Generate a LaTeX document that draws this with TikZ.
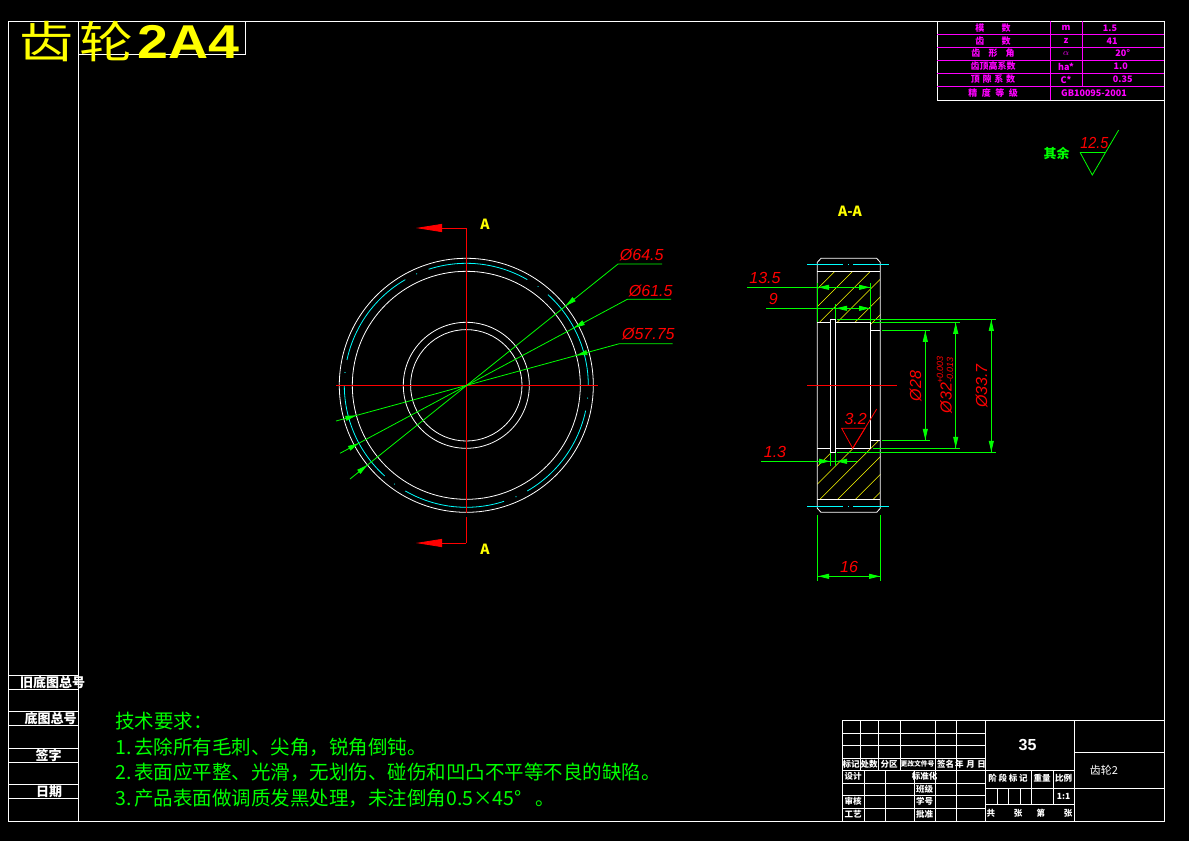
\documentclass[tikz,border=0pt]{standalone}
\usepackage{fontspec}
\setmainfont{Liberation Sans}
\newfontfamily\cjk{Noto Sans CJK SC}
\newfontfamily\wide[FakeStretch=1.17]{Liberation Sans}
\usetikzlibrary{arrows.meta, positioning, calc}
\newcommand*{\wcomma}{\symbol{"FF0C}}
\newcommand*{\wcolon}{\symbol{"FF1A}}
\definecolor{cadgreen}{RGB}{0,255,0}
\definecolor{cadcyan}{RGB}{0,255,255}
\definecolor{cadpink}{RGB}{255,0,255}
\definecolor{cadyellow}{RGB}{255,255,0}
\tikzstyle{frameline} = [white, line width=0.8pt]
\tikzstyle{partline} = [white, line width=0.8pt]
\tikzstyle{pitchline} = [cadcyan, line width=0.8pt]
\tikzstyle{axisline} = [red, line width=0.8pt]
\tikzstyle{hatchline} = [cadyellow, line width=0.5pt]
\tikzstyle{dimline} = [cadgreen, line width=0.8pt]
\tikzstyle{dimtip} = [dimline, -{Triangle[length=11pt, width=5pt]}]
\tikzstyle{cutarrow} = [axisline, -{Triangle[length=26pt, width=8pt]}]
\tikzstyle{tablerule} = [cadpink, line width=0.8pt]
\tikzstyle{sizetext} = [red, font=\fontsize{16}{16}\selectfont\itshape, inner sep=0pt]
\tikzstyle{sizerot} = [sizetext, rotate=90]
\tikzstyle{secmark} = [cadyellow, font=\cjk\bfseries\fontsize{14}{14}\selectfont, inner sep=0pt]
\tikzstyle{notetext} = [cadgreen, font=\cjk\fontsize{19.5}{19.5}\selectfont, inner sep=0pt, anchor=west]
\tikzstyle{sidetext} = [white, font=\cjk\bfseries\fontsize{13}{13}\selectfont, inner sep=0pt]
\tikzstyle{tinytext} = [white, font=\cjk\bfseries\fontsize{8.5}{8.5}\selectfont, inner sep=0pt]
\tikzstyle{pinktext} = [cadpink, font=\cjk\bfseries\fontsize{9}{9}\selectfont, inner sep=0pt]

\begin{document}
\begin{tikzpicture}[x=1pt, y=-1pt]
    \useasboundingbox [fill=black] (0,0) rectangle (1189,841);

    % Sheet frame.
    \draw [frameline] (8,21) rectangle (1164,821);
    \draw [frameline] (78,21) -- (78,821);
    \draw [frameline] (78,21) rectangle (245,54);
    \foreach \y in {675, 689, 711, 725, 748, 762, 784, 798} {%
        \draw [frameline] (8,\y) -- (78,\y);
    }

    % Side labels.
    \node (old no) [sidetext] at (52.5,683) {旧底图总号};
    \node (base no) [sidetext] at (50.5,719) {底图总号};
    \node (sign) [sidetext] at (48.5,755) {签字};
    \node (date) [sidetext] at (49,792) {日期};

    % Title.
    \node (title cn) [cadyellow, font=\cjk\fontsize{54}{54}\selectfont, inner sep=0pt, anchor=west, yscale=0.82, transform shape] at (19,42) {齿\hspace{6pt}轮};
    \node (title no) [cadyellow, font=\wide\bfseries\fontsize{47.5}{47.5}\selectfont, inner sep=0pt, anchor=west] at (137,42) {2A4};

    % Gear data table.
    \draw [frameline] (1050,21) -- (937,21) -- (937,100) -- (1164,100);
    \foreach \y in {34.5, 47, 60, 73, 86} {%
        \draw [tablerule] (937,\y) -- (1164,\y);
    }
    \draw [tablerule] (1050,21) -- (1050,100);
    \draw [tablerule] (1082,21) -- (1082,86);
    \foreach \y/\a/\b/\c/\v in {28/模\hspace{1.9em}数/m/1.5/1110, 41/齿\hspace{1.9em}数/z/41/1112, 53.5/齿\hspace{.9em}形\hspace{.9em}角/$\alpha$/20°/1122.7, 66.5/齿顶高系数/ha*/1.0/1120.7, 79.5/顶\hspace{.3em}隙\hspace{.3em}系\hspace{.3em}数/C*/0.35/1122.7} {%
        \node [pinktext] at (993,\y) {\a};
        \node [pinktext] at (1066,\y) {\b};
        \node [pinktext] at (\v,\y) {\c};
    }
    \node (grade) [pinktext] at (993,93) {精\hspace{.5em}度\hspace{.5em}等\hspace{.5em}级};
    \node (grade no) [pinktext] at (1094,93) {GB10095-2001};

    % Front view.
    \coordinate (hub) at (466.3,385.3);
    \foreach \r in {127, 114, 63, 55.7} {%
        \draw [partline] (hub) circle [radius=\r];
    }
    \foreach \a in {0, 60, ..., 300} {%
        \draw [pitchline, shift={(hub)}] plot [domain=\a:\a+48, samples=25] ({122*cos(\x)}, {-122*sin(\x)});
        \fill [cadcyan, shift={(hub)}] ({122*cos(\a+54)}, {-122*sin(\a+54)}) circle [radius=0.6];
    }

    % Centre lines and section marks.
    \coordinate (cut top) at (466.3,228);
    \coordinate (cut bottom) at (466.3,543);
    \coordinate (cut top end) at (416,228);
    \coordinate (cut bottom end) at (416,543);
    \coordinate (gap top) at (466.3,513);
    \coordinate (gap bottom) at (466.3,517);
    \coordinate (axis left) at (336,385.3);
    \coordinate (axis right) at (598,385.3);
    \draw [axisline] (axis left) -- (axis right);
    \draw [axisline] (cut top) -- (gap top);
    \draw [axisline] (gap bottom) -- (cut bottom);
    \draw [axisline] (cut top) -- (442,228);
    \draw [axisline] (cut bottom) -- (442,543);
    \draw [cutarrow] (442,228) -- (cut top end);
    \draw [cutarrow] (442,543) -- (cut bottom end);
    \node (mark top) [secmark] at (485,224) {A};
    \node (mark bottom) [secmark] at (485,549) {A};
    \node (mark section) [secmark] at (850,211) {A-A};

    % Diameter leaders.
    \foreach \n/\x/\y/\e/\r/\u/\ax/\lx/\ly/\t in {%
        a/618/264/662/127/350/479/641.7/255/Ø64.5,%
        b/627.3/299.3/671/122/340/453.3/650.7/290.7/Ø61.5,%
        c/619.3/343.7/672.7/114/336/421/648.3/334.3/Ø57.75} {%
        \coordinate (lead \n) at (\x,\y);
        \coordinate (shelf \n) at (\e,\y);
        \coordinate (tail \n) at (\u,\ax);
        \draw [dimline] (tail \n) -- (lead \n) -- (shelf \n);
        \draw [dimtip] ($(hub)!\r pt+11pt!(lead \n)$) -- ($(hub)!\r pt!(lead \n)$);
        \draw [dimtip] ($(hub)!\r pt+11pt!(tail \n)$) -- ($(hub)!\r pt!(tail \n)$);
        \node (text \n) [sizetext] at (\lx,\ly) {\t};
    }

    % Section view.
    \begin{scope}
        \clip (817.3,271.3) -- (880.3,271.3) -- (880.3,330.3) -- (870.3,330.3) -- (870.3,322.3) -- (835.3,322.3) -- (835.3,319.3) -- (830.3,319.3) -- (830.3,322.3) -- (817.3,322.3) -- cycle
              (817.3,448.3) -- (830.3,448.3) -- (830.3,452.7) -- (835.3,452.7) -- (835.3,448.3) -- (870.3,448.3) -- (870.3,440.3) -- (880.3,440.3) -- (880.3,499.3) -- (817.3,499.3) -- cycle;
        \foreach \s in {0, 1, ..., 22} {%
            \draw [hatchline] (800,306.3+\s*17.75) -- (900,206.3+\s*17.75);
        }
    \end{scope}
    \draw [partline] (821,258.3) -- (876.7,258.3) -- (880.3,262.3) -- (880.3,508.3) -- (876.7,512.3) -- (821,512.3) -- (817.3,508.3) -- (817.3,262.3) -- cycle;
    \draw [partline] (817.3,271.3) -- (880.3,271.3);
    \draw [partline] (817.3,499.3) -- (880.3,499.3);
    \draw [partline] (817.3,322.3) -- (830.3,322.3);
    \draw [partline] (835.3,322.3) -- (870.3,322.3) -- (870.3,440.3) -- (880.3,440.3);
    \draw [partline] (870.3,322.3) -- (870.3,330.3) -- (880.3,330.3);
    \draw [partline] (830.3,319.3) rectangle (835.3,452.7);
    \draw [partline] (817.3,448.3) -- (830.3,448.3);
    \draw [partline] (835.3,448.3) -- (870.3,448.3) -- (870.3,440.3);
    \foreach \y in {264.3, 506.3} {%
        \draw [pitchline] (807,\y) -- (842.7,\y);
        \draw [pitchline] (848,\y) -- (849,\y);
        \draw [pitchline] (853,\y) -- (889,\y);
    }
    \draw [axisline] (807,385.3) -- (897,385.3);

    % Dimensions of the section.
    \draw [dimline] (747,287.3) -- (870.7,287.3);
    \draw [dimline] (817.3,283) -- (817.3,322);
    \draw [dimline] (870.7,283) -- (870.7,322);
    \draw [dimtip] (829,287.3) -- (818,287.3);
    \draw [dimtip] (859,287.3) -- (870,287.3);
    \node (text thick) [sizetext] at (765,278) {13.5};

    \draw [dimline] (766,308.3) -- (870.7,308.3);
    \draw [dimline] (835.3,304) -- (835.3,319);
    \draw [dimtip] (847,308.3) -- (836,308.3);
    \draw [dimtip] (859,308.3) -- (870,308.3);
    \node (text web) [sizetext] at (773.3,298.7) {9};

    \draw [dimline] (761,461.3) -- (857.3,461.3);
    \draw [dimline] (830.3,452.7) -- (830.3,465.7);
    \draw [dimline] (835.3,452.7) -- (835.3,465.7);
    \draw [dimtip] (819,461.3) -- (830,461.3);
    \draw [dimtip] (847,461.3) -- (836,461.3);
    \node (text groove) [sizetext] at (775,452.3) {1.3};

    \draw [dimline] (817.3,515) -- (817.3,580.7);
    \draw [dimline] (880.3,515) -- (880.3,580.7);
    \draw [dimline] (817.3,576.3) -- (880.3,576.3);
    \draw [dimtip] (829,576.3) -- (818,576.3);
    \draw [dimtip] (869,576.3) -- (880,576.3);
    \node (text width) [sizetext] at (849,567.3) {16};

    \foreach \x/\t/\b/\l/\r in {925.3/330.3/440.3/882/930, 955.7/322.3/448.3/873/960, 991.3/319.3/452.3/837.3/996} {%
        \draw [dimline] (\l,\t) -- (\r,\t);
        \draw [dimline] (\l,\b) -- (\r,\b);
        \draw [dimline] (\x,\t) -- (\x,\b);
        \draw [dimtip] (\x,\t+11) -- (\x,\t+0.5);
        \draw [dimtip] (\x,\b-11) -- (\x,\b-0.5);
    }
    \node (text bore) [sizerot] at (915.7,386) {Ø28};
    \node (text fit) [sizerot] at (946,398) {Ø32};
    \node (text fit up) [sizerot, font=\fontsize{9}{9}\selectfont\itshape] at (940,370) {+0.003};
    \node (text fit low) [sizerot, font=\fontsize{9}{9}\selectfont\itshape] at (950,370) {-0.013};
    \node (text hub) [sizerot] at (981.7,386) {Ø33.7};

    % Surface marks.
    \draw [axisline] (841.7,428.3) -- (865,428.3) -- (852.7,448.3) -- cycle;
    \draw [axisline] (852.7,448.3) -- (876.7,409);
    \node (text fine) [sizetext] at (855.7,419) {3.2};
    \draw [dimline] (1080,152.3) -- (1105.7,152.3);
    \draw [dimline] (1080,152.3) -- (1092.3,175) -- (1118.7,130);
    \node (text rough) [sizetext, xscale=0.9, transform shape] at (1094.3,143.3) {12.5};
    \node (text rest) [cadgreen, font=\cjk\bfseries\fontsize{13}{13}\selectfont, inner sep=0pt] at (1056.5,153) {其余};

    % Technical notes.
    \node (note head) [notetext] at (115,721) {技术要求\wcolon};
    \node (note 1) [notetext] at (115,747) {1.\hspace{3pt}去除所有毛刺、尖角\wcomma 锐角倒钝。};
    \node (note 2) [notetext] at (115,772) {2.\hspace{3pt}表面应平整、光滑\wcomma 无划伤、碰伤和凹凸不平等不良的缺陷。};
    \node (note 3) [notetext] at (115,798) {3.\hspace{3pt}产品表面做调质发黑处理\wcomma 未注倒角0.5×45°\hspace{14pt}。};

    % Title block.
    \draw [frameline] (842,720) rectangle (1164,821);
    \foreach \y in {733, 745, 758, 770, 783, 795, 808} {%
        \draw [frameline] (842,\y) -- (985,\y);
    }
    \foreach \x in {860, 878, 900, 935, 956} {%
        \draw [frameline] (\x,720) -- (\x,770);
    }
    \foreach \x in {864, 885, 914, 935, 956} {%
        \draw [frameline] (\x,770) -- (\x,821);
    }
    \draw [frameline] (985,720) -- (985,821);
    \draw [frameline] (1074,720) -- (1074,821);
    \draw [frameline] (985,770) -- (1074,770);
    \draw [frameline] (985,788) -- (1164,788);
    \draw [frameline] (985,804) -- (1074,804);
    \draw [frameline] (1074,752) -- (1164,752);
    \foreach \x in {1031, 1053} {%
        \draw [frameline] (\x,770) -- (\x,804);
    }
    \foreach \x in {997, 1008, 1020} {%
        \draw [frameline] (\x,788) -- (\x,804);
    }
    \foreach \x/\t in {851/标记, 869/处数, 889/分区, 945.5/签名, 970.5/年\hspace{.3em}月\hspace{.3em}日} {%
        \node [tinytext] at (\x,764) {\t};
    }
    \node (change no) [tinytext, font=\cjk\bfseries\fontsize{6.8}{6.8}\selectfont] at (917.5,764) {更改文件号};
    \foreach \y/\a/\b in {776.5/设计/标准化, 789/{}/班级, 801.5/审核/学号, 814.5/工艺/批准} {%
        \node [tinytext] at (853,\y) {\a};
        \node [tinytext] at (924.5,\y) {\b};
    }
    \node (stage) [tinytext] at (1008,778.5) {阶\hspace{.2em}段\hspace{.2em}标\hspace{.2em}记};
    \node (weight) [tinytext] at (1042,778.5) {重量};
    \node (ratio) [tinytext] at (1063.5,778.5) {比例};
    \node (scale) [tinytext] at (1063.5,796) {1:1};
    \node (sheet) [tinytext] at (1029.5,813) {共\hspace{2.2em}张\hspace{1.7em}第\hspace{2.2em}张};
    \node (part no) [white, font=\bfseries\fontsize{16}{16}\selectfont, inner sep=0pt] at (1027.5,745) {35};
    \node (part name) [white, font=\cjk\fontsize{11}{11}\selectfont, inner sep=0pt] at (1104,770) {齿轮2};
\end{tikzpicture}
\end{document}
